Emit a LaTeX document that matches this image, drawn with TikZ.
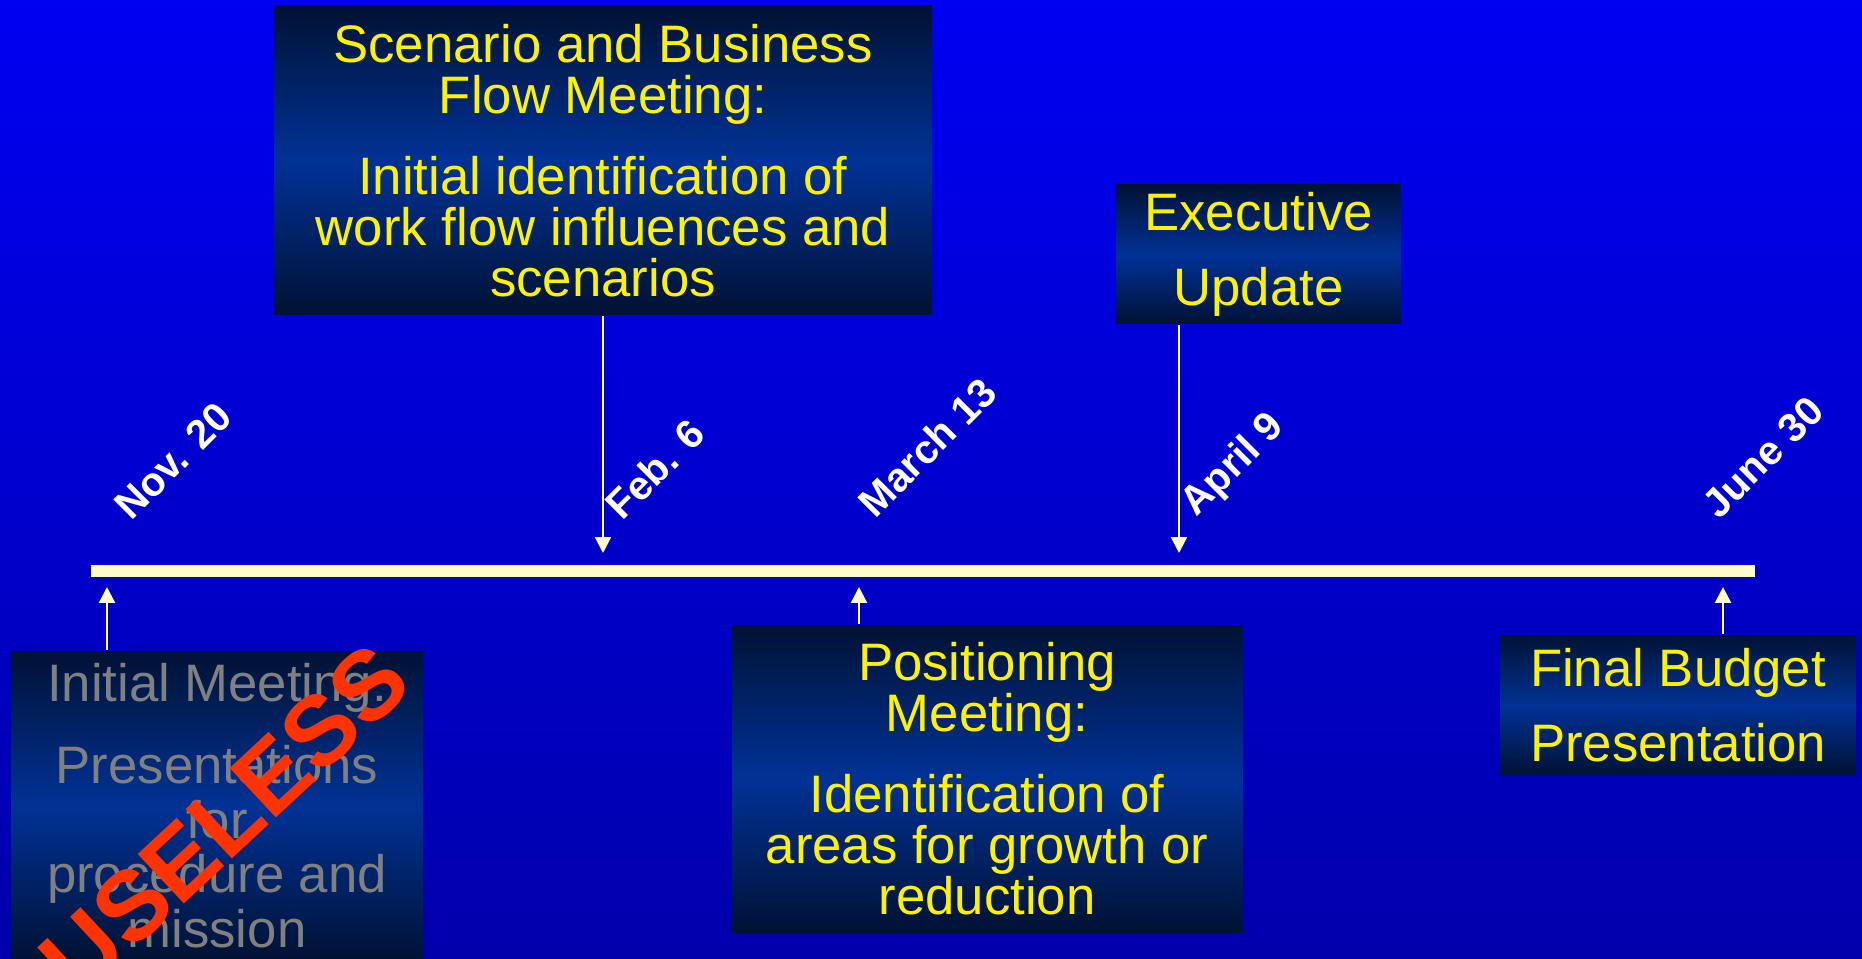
\documentclass[tikz,border=0pt]{standalone}
\usepackage{fontspec}
\setmainfont{Liberation Sans}
\usetikzlibrary{arrows.meta}
\definecolor{bgtop}{RGB}{0,0,242}
\definecolor{bgbot}{RGB}{0,0,172}
\definecolor{boxdark}{RGB}{0,18,52}
\definecolor{boxmid}{RGB}{0,50,150}
\definecolor{barcol}{RGB}{255,255,204}
\definecolor{stampred}{RGB}{255,51,0}
\definecolor{dimtext}{RGB}{128,128,128}

\begin{document}
\begin{tikzpicture}[box/.style={inner sep=0pt, align=center, text=yellow, top color=boxdark, bottom color=boxdark, middle color=boxmid, font=\fontsize{15}{14.5}\selectfont},
	datelabel/.style={text=white, rotate=45, inner sep=0pt, font=\fontsize{11.5}{13}\selectfont\bfseries},
	pin/.style={white, line width=0.6pt, -{Triangle[length=4.5pt,width=4.5pt,color=barcol]}}]
			\useasboundingbox (0,0) rectangle (18.62,9.58);
			\shade[top color=bgtop, bottom color=bgbot] (0,0) rectangle (18.62,9.58);
			\coordinate (start) at (0.91,3.87);
			\coordinate (end) at (17.55,3.87);
			\draw[barcol, line width=3.4pt] (start) -- (end);
			\coordinate (nov) at (1.07,3.71);
			\coordinate (feb) at (6.03,4.05);
			\coordinate (mar) at (8.59,3.71);
			\coordinate (apr) at (11.79,4.05);
			\coordinate (jun) at (17.23,3.71);
			\node[box, minimum width=6.58cm, minimum height=3.09cm] (scen) at (6.03,7.975) {Scenario and Business\\Flow Meeting:\\[8.7pt]Initial identification of\\work flow influences and\\scenarios};
			\node[box, minimum width=2.85cm, minimum height=1.39cm, font=\fontsize{15}{21.5}\selectfont] (exec) at (12.585,7.035) {Executive\\Update};
			\node[box, minimum width=5.105cm, minimum height=3.07cm] (posi) at (9.87,1.795) {Positioning\\Meeting:\\[8.7pt]Identification of\\areas for growth or\\reduction};
			\node[box, minimum width=3.56cm, minimum height=1.40cm, font=\fontsize{15}{21.3}\selectfont] (final) at (16.78,2.53) {Final Budget\\Presentation};
			\node[box, text=dimtext, minimum width=4.12cm, minimum height=3.09cm, font=\fontsize{15}{15.5}\selectfont] (init) at (2.17,1.525) {Initial Meeting:\\[8pt]Presentations\\for\\procedure and\\mission};
			\draw[pin] (scen.south) -- (feb);
			\draw[pin] (exec.south -| apr) -- (apr);
			\draw[pin] (posi.north -| mar) -- (mar);
			\draw[pin] (final.north -| jun) -- (jun);
			\draw[pin] (init.north -| nov) -- (nov);
			\node[datelabel] (novlabel) at (1.73,4.97) {Nov. 20};
			\node[datelabel] (feblabel) at (6.55,4.89) {Feb. 6};
			\node[datelabel] (marlabel) at (9.27,5.11) {March 13};
			\node[datelabel] (aprlabel) at (12.34,4.92) {April 9};
			\node[datelabel] (junlabel) at (17.63,5.01) {June 30};
			\node[text=stampred, rotate=43, inner sep=0pt, font=\fontsize{28}{30}\selectfont\bfseries] (stamp) at (2.24,1.38) {USELESS};
		\end{tikzpicture}
\end{document}
